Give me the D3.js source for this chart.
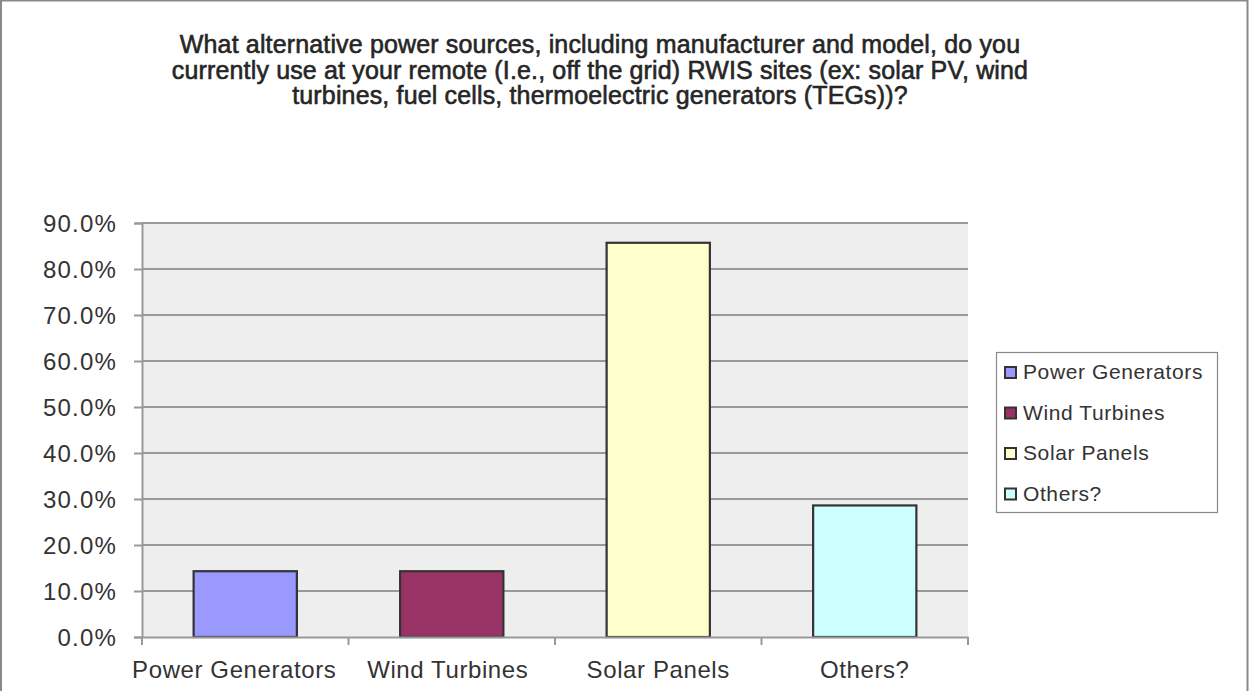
<!DOCTYPE html>
<html>
<head>
<meta charset="utf-8">
<script src="https://cdn.jsdelivr.net/npm/d3@7"></script>
<style>
  html, body { margin: 0; padding: 0; background: #fff; }
  svg { display: block; }
  text { font-family: "Liberation Sans", Arial, sans-serif; fill: #333; }
</style>
</head>
<body>
<svg id="chart" width="1249" height="691"></svg>
<script>
// Survey responses: share of agencies using each alternative power source
const categories = ["Power Generators", "Wind Turbines", "Solar Panels", "Others?"];
const values = [0.143, 0.143, 0.857, 0.286];
const colors = ["#9999FF", "#993366", "#FFFFCC", "#CCFFFF"];
const yTicks = [0, 0.1, 0.2, 0.3, 0.4, 0.5, 0.6, 0.7, 0.8, 0.9];
const titleLines = [
  "What alternative power sources, including manufacturer and model, do you",
  "currently use at your remote (I.e., off the grid) RWIS sites (ex: solar PV, wind",
  "turbines, fuel cells, thermoelectric generators (TEGs))?"
];
// small horizontal nudges so the long category labels don't crowd each other
const labelShift = [-11, -4, 0, 0];

const W = 1249, H = 691;
const plot = { left: 142, right: 968, top: 223, bottom: 637 };

const svg = d3.select("#chart");

// outer frame
svg.append("rect")
  .attr("x", 1).attr("y", 0.5).attr("width", W - 2.5).attr("height", H + 10)
  .attr("fill", "#fff").attr("stroke", "#888").attr("stroke-width", 2);

// title
svg.append("g").selectAll("text")
  .data(titleLines)
  .join("text")
  .attr("x", 600)
  .attr("y", (d, i) => 53 + i * 25.5)
  .attr("text-anchor", "middle")
  .attr("font-size", 25)
  .attr("letter-spacing", 0.15)
  .style("fill", "#262626")
  .style("stroke", "#262626")
  .style("stroke-width", 0.6)
  .text(d => d);

const x = d3.scaleBand().domain(categories).range([plot.left, plot.right]).paddingInner(0).paddingOuter(0);
const y = d3.scaleLinear().domain([0, 0.9]).range([plot.bottom, plot.top]);

// plot background
svg.append("rect")
  .attr("x", plot.left).attr("y", plot.top)
  .attr("width", plot.right - plot.left).attr("height", plot.bottom - plot.top)
  .attr("fill", "#EEEEEE");

// horizontal gridlines
svg.append("g").selectAll("line")
  .data(yTicks.filter(t => t > 0))
  .join("line")
  .attr("x1", plot.left).attr("x2", plot.right)
  .attr("y1", d => y(d)).attr("y2", d => y(d))
  .attr("stroke", "#999").attr("stroke-width", 2);

// bars
const bw = x.bandwidth() * 0.5;
svg.append("g").selectAll("rect")
  .data(categories)
  .join("rect")
  .attr("x", d => x(d) + (x.bandwidth() - bw) / 2)
  .attr("y", (d, i) => y(values[i]))
  .attr("width", bw)
  .attr("height", (d, i) => y(0) - y(values[i]))
  .attr("fill", (d, i) => colors[i])
  .attr("stroke", "#333").attr("stroke-width", 2.2);

// y axis
const yAxis = svg.append("g")
  .attr("transform", `translate(${plot.left},0)`)
  .call(d3.axisLeft(y).tickValues(yTicks).tickFormat(d3.format(".1%")).tickSize(8).tickPadding(17));
yAxis.select(".domain").attr("stroke", "#999").attr("stroke-width", 2);
yAxis.selectAll(".tick line").attr("stroke", "#999").attr("stroke-width", 2);
yAxis.selectAll(".tick text")
  .attr("font-size", 24).attr("letter-spacing", 1.2)
  .attr("font-family", "Liberation Sans, Arial, sans-serif")
  .attr("dy", "0.35em")
  .style("fill", "#333");

// x axis
const xAxis = svg.append("g")
  .attr("transform", `translate(0,${plot.bottom})`)
  .call(d3.axisBottom(x).tickSize(0).tickPadding(24));
xAxis.select(".domain").attr("stroke", "#999").attr("stroke-width", 2);
xAxis.selectAll(".tick text")
  .attr("font-size", 24).attr("letter-spacing", 0.6)
  .attr("font-family", "Liberation Sans, Arial, sans-serif")
  .attr("dx", (d, i) => labelShift[i])
  .style("fill", "#333");
// category boundary ticks
const bounds = categories.map(c => x(c)).concat([plot.right]);
xAxis.append("g").selectAll("line")
  .data(bounds)
  .join("line")
  .attr("x1", d => d).attr("x2", d => d)
  .attr("y1", 0).attr("y2", 8)
  .attr("stroke", "#999").attr("stroke-width", 2);

// legend
const lg = svg.append("g");
lg.append("rect")
  .attr("x", 996.5).attr("y", 352.5).attr("width", 221).attr("height", 160)
  .attr("fill", "#fff").attr("stroke", "#888").attr("stroke-width", 1.2);
const items = lg.selectAll("g.item")
  .data(categories)
  .join("g")
  .attr("class", "item")
  .attr("transform", (d, i) => `translate(1005,${379 + i * 40.5})`);
items.append("rect")
  .attr("x", 0).attr("y", -12).attr("width", 11).attr("height", 11)
  .attr("fill", (d, i) => colors[i])
  .attr("stroke", "#333").attr("stroke-width", 2);
items.append("text")
  .attr("x", 18).attr("y", 0)
  .attr("font-size", 21).attr("letter-spacing", 0.6)
  .style("fill", "#333")
  .text(d => d);
</script>
</body>
</html>
